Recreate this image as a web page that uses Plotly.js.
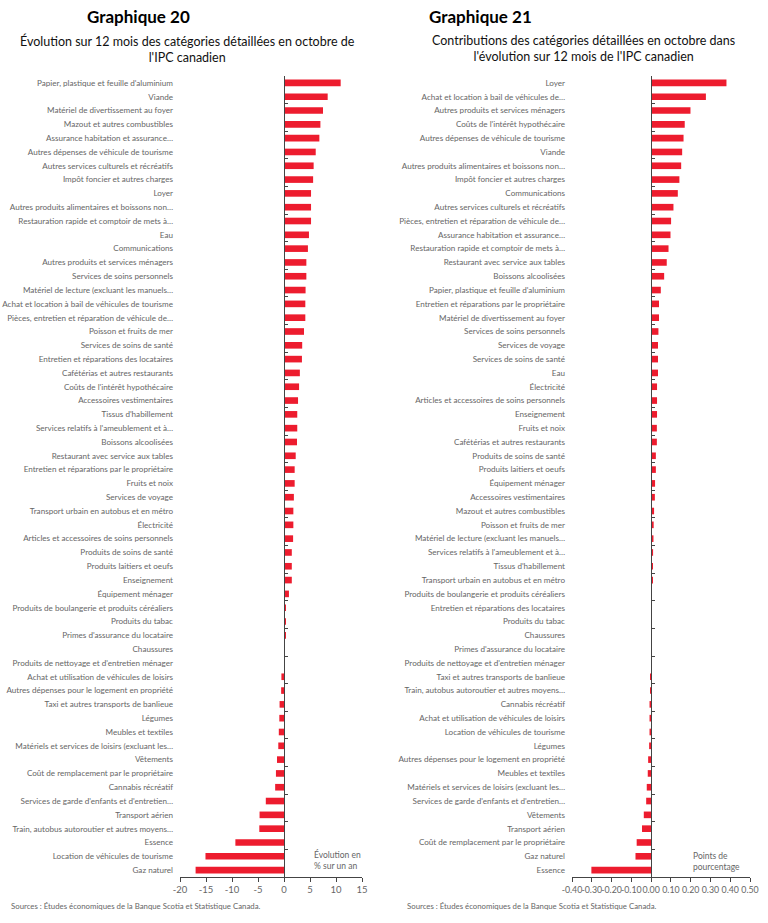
<!DOCTYPE html>
<html>
<head>
<meta charset="utf-8">
<script src="https://cdn.plot.ly/plotly-3.0.1.min.js"></script>
<style>
  html, body { margin: 0; padding: 0; background: #fff; }
  #chart { width: 768px; height: 923px; }
</style>
</head>
<body>
<div id="chart"></div>
<script>
// Graphique 20 : évolution sur 12 mois (%)
var labels20 = [
  "Papier, plastique et feuille d'aluminium", "Viande", "Matériel de divertissement au foyer",
  "Mazout et autres combustibles", "Assurance habitation et assurance…",
  "Autres dépenses de véhicule de tourisme", "Autres services culturels et récréatifs",
  "Impôt foncier et autres charges", "Loyer", "Autres produits alimentaires et boissons non…",
  "Restauration rapide et comptoir de mets à…", "Eau", "Communications",
  "Autres produits et services ménagers", "Services de soins personnels",
  "Matériel de lecture (excluant les manuels…", "Achat et location à bail de véhicules de tourisme",
  "Pièces, entretien et réparation de véhicule de…", "Poisson et fruits de mer",
  "Services de soins de santé", "Entretien et réparations des locataires",
  "Cafétérias et autres restaurants", "Coûts de l'intérêt hypothécaire", "Accessoires vestimentaires",
  "Tissus d'habillement", "Services relatifs à l'ameublement et à…", "Boissons alcoolisées",
  "Restaurant avec service aux tables", "Entretien et réparations par le propriétaire",
  "Fruits et noix", "Services de voyage", "Transport urbain en autobus et en métro",
  "Électricité", "Articles et accessoires de soins personnels", "Produits de soins de santé",
  "Produits laitiers et oeufs", "Enseignement", "Équipement ménager",
  "Produits de boulangerie et produits céréaliers", "Produits du tabac",
  "Primes d'assurance du locataire", "Chaussures", "Produits de nettoyage et d'entretien ménager",
  "Achat et utilisation de véhicules de loisirs", "Autres dépenses pour le logement en propriété",
  "Taxi et autres transports de banlieue", "Légumes", "Meubles et textiles",
  "Matériels et services de loisirs (excluant les…", "Vêtements",
  "Coût de remplacement par le propriétaire", "Cannabis récréatif",
  "Services de garde d'enfants et d'entretien…", "Transport aérien",
  "Train, autobus autoroutier et autres moyens…", "Essence",
  "Location de véhicules de tourisme", "Gaz naturel"
];
var values20 = [
  10.9, 8.4, 7.5, 7.0, 6.8, 6.1, 5.7, 5.6, 5.2, 5.2,
  5.2, 4.8, 4.6, 4.3, 4.3, 4.15, 4.1, 4.1, 3.85, 3.5,
  3.45, 3.05, 2.9, 2.7, 2.55, 2.55, 2.5, 2.25, 2.05, 2.05,
  1.9, 1.8, 1.8, 1.75, 1.5, 1.5, 1.5, 0.95, 0.2, 0.2,
  0.2, 0.05, 0.0, -0.5, -0.55, -0.85, -0.9, -1.0, -1.1, -1.35,
  -1.55, -1.7, -3.5, -4.7, -4.75, -9.35, -15.1, -17.0
];
var ticks20 = [-20, -15, -10, -5, 0, 5, 10, 15];
var tickText20 = ["-20", "-15", "-10", "-5", "0", "5", "10", "15"];

// Graphique 21 : contributions (points de pourcentage)
var labels21 = [
  "Loyer", "Achat et location à bail de véhicules de…", "Autres produits et services ménagers",
  "Coûts de l'intérêt hypothécaire", "Autres dépenses de véhicule de tourisme", "Viande",
  "Autres produits alimentaires et boissons non…", "Impôt foncier et autres charges",
  "Communications", "Autres services culturels et récréatifs",
  "Pièces, entretien et réparation de véhicule de…", "Assurance habitation et assurance…",
  "Restauration rapide et comptoir de mets à…", "Restaurant avec service aux tables",
  "Boissons alcoolisées", "Papier, plastique et feuille d'aluminium",
  "Entretien et réparations par le propriétaire", "Matériel de divertissement au foyer",
  "Services de soins personnels", "Services de voyage", "Services de soins de santé", "Eau",
  "Électricité", "Articles et accessoires de soins personnels", "Enseignement", "Fruits et noix",
  "Cafétérias et autres restaurants", "Produits de soins de santé", "Produits laitiers et oeufs",
  "Équipement ménager", "Accessoires vestimentaires", "Mazout et autres combustibles",
  "Poisson et fruits de mer", "Matériel de lecture (excluant les manuels…",
  "Services relatifs à l'ameublement et à…", "Tissus d'habillement",
  "Transport urbain en autobus et en métro", "Produits de boulangerie et produits céréaliers",
  "Entretien et réparations des locataires", "Produits du tabac", "Chaussures",
  "Primes d'assurance du locataire", "Produits de nettoyage et d'entretien ménager",
  "Taxi et autres transports de banlieue", "Train, autobus autoroutier et autres moyens…",
  "Cannabis récréatif", "Achat et utilisation de véhicules de loisirs",
  "Location de véhicules de tourisme", "Légumes", "Autres dépenses pour le logement en propriété",
  "Meubles et textiles", "Matériels et services de loisirs (excluant les…",
  "Services de garde d'enfants et d'entretien…", "Vêtements", "Transport aérien",
  "Coût de remplacement par le propriétaire", "Gaz naturel", "Essence"
];
var values21 = [
  0.381, 0.277, 0.199, 0.170, 0.164, 0.157, 0.152, 0.143, 0.135, 0.113,
  0.101, 0.098, 0.088, 0.079, 0.066, 0.049, 0.040, 0.040, 0.037, 0.035,
  0.035, 0.035, 0.030, 0.030, 0.030, 0.029, 0.029, 0.024, 0.024, 0.020,
  0.019, 0.015, 0.013, 0.012, 0.010, 0.008, 0.008, 0.004, 0.004, 0.002,
  0.001, 0.001, 0.0, -0.001, -0.004, -0.008, -0.008, -0.008, -0.010, -0.015,
  -0.017, -0.022, -0.025, -0.037, -0.046, -0.073, -0.079, -0.302
];
var ticks21 = [-0.4, -0.3, -0.2, -0.1, 0, 0.1, 0.2, 0.3, 0.4, 0.5];
var tickText21 = ["-0.40", "-0.30", "-0.20", "-0.10", "0.00", "0.10", "0.20", "0.30", "0.40", "0.50"];

var RED = '#ED1C2E';
var GREY = '#666666';
var FONT = 'Lato, "Open Sans", sans-serif';

// pixel -> paper helpers (page 768 x 923, plot area from y=76 to y=877)
var W = 768, TOP = 76, BOT = 877;
function px(x) { return x / W; }
function py(y) { return (BOT - y) / (BOT - TOP); }

var dom1 = [px(180), px(362)];
var dom2 = [px(572), px(750)];
var range1 = [-20, 15];
var range2 = [-0.4, 0.5];
function zeroPos(dom, r) { return dom[0] + (0 - r[0]) / (r[1] - r[0]) * (dom[1] - dom[0]); }
// reversed category range, first item on top
function catRange(labels) { return [labels.length - 0.5, -0.5]; }

var data = [
  { type: 'bar', orientation: 'h', x: values20, y: labels20, xaxis: 'x', yaxis: 'y',
    marker: { color: RED }, hoverinfo: 'x+y' },
  { type: 'scatter', mode: 'markers', x: values20, y: labels20, xaxis: 'x', yaxis: 'y3',
    marker: { opacity: 0 }, hoverinfo: 'skip', showlegend: false },
  { type: 'bar', orientation: 'h', x: values21, y: labels21, xaxis: 'x2', yaxis: 'y2',
    marker: { color: RED }, hoverinfo: 'x+y' },
  { type: 'scatter', mode: 'markers', x: values21, y: labels21, xaxis: 'x2', yaxis: 'y4',
    marker: { opacity: 0 }, hoverinfo: 'skip', showlegend: false }
];

var catAxis = {
  type: 'category', showline: false, ticks: '',
  showgrid: false, zeroline: false, ticklabelstandoff: 6,
  tickfont: { family: FONT, size: 8.1, color: GREY }
};
var zeroAxis = {
  type: 'category', anchor: 'free',
  showline: true, linecolor: '#444', linewidth: 1,
  ticks: 'inside', tickson: 'boundaries', ticklen: 3, tickcolor: '#444',
  showticklabels: false, showgrid: false, zeroline: false
};
var valAxis = {
  showline: true, linecolor: '#444', linewidth: 1, ticks: 'outside', ticklen: 4,
  tickcolor: '#444', showgrid: false, zeroline: false, tickangle: 0,
  tickfont: { family: FONT, size: 9.5, color: GREY }
};

var layout = {
  width: 768, height: 923,
  margin: { l: 0, r: 0, t: TOP, b: 923 - BOT },
  paper_bgcolor: '#fff', plot_bgcolor: 'rgba(0,0,0,0)',
  showlegend: false, bargap: 0.52,
  font: { family: FONT },
  xaxis: Object.assign({}, valAxis, { domain: dom1, anchor: 'y', range: range1,
    tickmode: 'array', tickvals: ticks20, ticktext: tickText20 }),
  yaxis: Object.assign({}, catAxis, { domain: [0, 1], anchor: 'x', range: catRange(labels20) }),
  yaxis3: Object.assign({}, zeroAxis, { overlaying: 'y', range: catRange(labels20),
    position: zeroPos(dom1, range1) }),
  xaxis2: Object.assign({}, valAxis, { domain: dom2, anchor: 'y2', range: range2,
    tickmode: 'array', tickvals: ticks21, ticktext: tickText21,
    tickfont: { family: FONT, size: 8.8, color: GREY } }),
  yaxis2: Object.assign({}, catAxis, { domain: [0, 1], anchor: 'x2', range: catRange(labels21) }),
  yaxis4: Object.assign({}, zeroAxis, { overlaying: 'y2', range: catRange(labels21),
    position: zeroPos(dom2, range2) }),
  annotations: [
    { text: '<b>Graphique 20</b>', xref: 'paper', yref: 'paper', x: px(85), y: py(16),
      xanchor: 'left', yanchor: 'middle', showarrow: false,
      font: { family: FONT, size: 17, color: '#000' } },
    { text: '<b>Graphique 21</b>', xref: 'paper', yref: 'paper', x: px(427), y: py(16),
      xanchor: 'left', yanchor: 'middle', showarrow: false,
      font: { family: FONT, size: 17, color: '#000' } },
    { text: "Évolution sur 12 mois des catégories détaillées en octobre de<br>l'IPC canadien",
      xref: 'paper', yref: 'paper', x: px(187), y: py(49), xanchor: 'center', yanchor: 'middle',
      showarrow: false, align: 'center', font: { family: FONT, size: 12.5, color: '#111' } },
    { text: "Contributions des catégories détaillées en octobre dans<br>l'évolution sur 12 mois de l'IPC canadien",
      xref: 'paper', yref: 'paper', x: px(583), y: py(49), xanchor: 'center', yanchor: 'middle',
      showarrow: false, align: 'center', font: { family: FONT, size: 12.5, color: '#111' } },
    { text: 'Évolution en<br>% sur un an', xref: 'paper', yref: 'paper', x: px(312), y: py(860),
      xanchor: 'left', yanchor: 'middle', align: 'left', showarrow: false,
      font: { family: FONT, size: 8.5, color: GREY } },
    { text: 'Points de<br>pourcentage', xref: 'paper', yref: 'paper', x: px(691), y: py(861),
      xanchor: 'left', yanchor: 'middle', align: 'left', showarrow: false,
      font: { family: FONT, size: 8.5, color: GREY } },
    { text: 'Sources : Études économiques de la Banque Scotia et Statistique Canada.',
      xref: 'paper', yref: 'paper', x: px(9), y: py(906), xanchor: 'left', yanchor: 'middle',
      showarrow: false, font: { family: FONT, size: 7.8, color: GREY } },
    { text: 'Sources : Études économiques de la Banque Scotia et Statistique Canada.',
      xref: 'paper', yref: 'paper', x: px(405), y: py(906), xanchor: 'left', yanchor: 'middle',
      showarrow: false, font: { family: FONT, size: 7.8, color: GREY } }
  ]
};

Plotly.newPlot('chart', data, layout, { displayModeBar: false, responsive: false });
</script>
</body>
</html>
